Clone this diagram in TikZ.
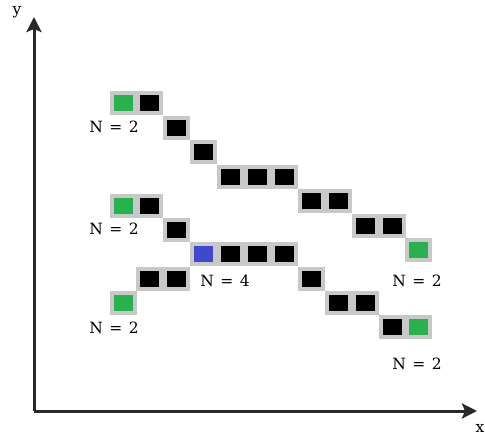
\documentclass[tikz,border=0pt]{standalone}
\usepackage{fontspec}
\setmainfont{DejaVu Serif}
\usetikzlibrary{arrows.meta}
\definecolor{cellgray}{RGB}{200,200,200}
\definecolor{cgreen}{RGB}{40,178,78}
\definecolor{cblue}{RGB}{62,74,206}
\definecolor{axisc}{RGB}{40,40,40}
\tikzset{
  cell/.style={draw=cellgray, line width=4pt, minimum width=23pt, minimum height=20pt, inner sep=0pt},
  blk/.style={cell, fill=black},
  grn/.style={cell, fill=cgreen},
  blu/.style={cell, fill=cblue},
  lbl/.style={font=\fontsize{15.5}{18}\selectfont, inner sep=0pt},
  axis/.style={draw=axisc, line width=3pt, -{Stealth[length=15pt,width=15pt,inset=3pt]}}
}
\newcommand{\nlab}[1]{N\hspace{0.42em}=\hspace{0.42em}#1}
\begin{document}
\begin{tikzpicture}[x=1pt,y=-1pt]
\useasboundingbox (0,0) rectangle (485,436);
% axes
\coordinate (o) at (34,411);
\coordinate (ytip) at (34,17);
\coordinate (xtip) at (477,411);
\draw[axis] (o) -- (ytip);
\draw[axis] (o) -- (xtip);
\node[lbl] (ylab) at (17,12) {y};
\node[lbl] (xlab) at (480,428) {x};
% chain A
\node[grn] (a00) at (123,103) {};
\node[blk] (a01) at (149.9,103) {};
\node[blk] (a12) at (176.8,127.5) {};
\node[blk] (a23) at (203.7,152) {};
\node[blk] (a34) at (230.6,176.5) {};
\node[blk] (a35) at (257.5,176.5) {};
\node[blk] (a36) at (284.4,176.5) {};
\node[blk] (a47) at (311.3,201) {};
\node[blk] (a48) at (338.2,201) {};
\node[blk] (a59) at (365.1,225.5) {};
\node[blk] (a510) at (392,225.5) {};
\node[grn] (a611) at (418.9,250) {};
% chain B
\node[grn] (b00) at (123,206) {};
\node[blk] (b01) at (149.9,206) {};
\node[blk] (b12) at (176.8,230.2) {};
\node[blu] (b23) at (203.7,254.4) {};
\node[blk] (b24) at (230.6,254.4) {};
\node[blk] (b25) at (257.5,254.4) {};
\node[blk] (b26) at (284.4,254.4) {};
\node[blk] (b37) at (311.3,278.6) {};
\node[blk] (b48) at (338.2,302.8) {};
\node[blk] (b49) at (365.1,302.8) {};
\node[blk] (b510) at (392,327) {};
\node[grn] (b511) at (418.9,327) {};
% branch
\node[blk] (c31) at (149.9,278.6) {};
\node[blk] (c32) at (176.8,278.6) {};
\node[grn] (c40) at (123,302.8) {};
% labels
\node[lbl] (l1) at (114,127) {\nlab{2}};
\node[lbl] (l2) at (114,229) {\nlab{2}};
\node[lbl] (l3) at (225,281) {\nlab{4}};
\node[lbl] (l4) at (114,328) {\nlab{2}};
\node[lbl] (l5) at (417,281) {\nlab{2}};
\node[lbl] (l6) at (417,364) {\nlab{2}};
\end{tikzpicture}
\end{document}
